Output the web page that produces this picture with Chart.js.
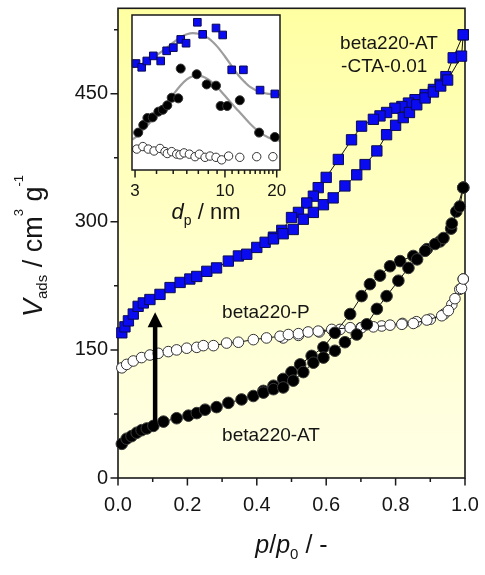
<!DOCTYPE html>
<html><head><meta charset="utf-8">
<script src="https://cdn.jsdelivr.net/npm/chart.js@4.4.1/dist/chart.umd.min.js"></script>
<style>
html,body{margin:0;padding:0;background:#fff;}
#wrap{position:relative;width:485px;height:575px;overflow:hidden;}
#main{position:absolute;left:0;top:0;}
#inset{position:absolute;left:100px;top:0;}
</style></head><body>
<div id="wrap"><canvas id="main" width="485" height="575"></canvas><canvas id="inset" width="200" height="235"></canvas></div>
<script>
const FONT = '"Liberation Sans", Arial, Helvetica, sans-serif';

// ---------- main chart data (p/p0 , V_ads) ----------
const ctaAdsX = [0.011,0.020,0.030,0.044,0.058,0.073,0.092,0.121,0.150,0.179,0.207,0.227,0.256,0.284,0.318,0.347,0.371,0.400,0.424,0.448,0.476,0.505,0.534,0.563,0.592,0.620,0.654,0.688,0.712,0.746,0.774,0.800,0.822,0.840,0.861,0.885,0.909,0.930,0.950,0.990,0.995];
const ctaAdsY = [170,177,184,192,201,205,209,215,223,229,233,236,242,246,254,260,262,270,276,280,286,291,303,311,320,328,342,355,367,383,402,413,422,428,437,445,452,459,466,494,519];
const ctaDesX = [0.995,0.966,0.945,0.928,0.909,0.885,0.856,0.837,0.818,0.798,0.774,0.755,0.736,0.702,0.673,0.635,0.600,0.577,0.563,0.544,0.520,0.500,0.472,0.448];
const ctaDesY = [519,492,470,461,455,449,443,439,435,433,428,424,420,412,396,373,352,340,330,322,311,305,290,282];

const atAdsX = [0.011,0.025,0.039,0.054,0.068,0.083,0.102,0.131,0.169,0.203,0.227,0.251,0.284,0.318,0.356,0.390,0.419,0.448,0.476,0.505,0.534,0.563,0.592,0.625,0.654,0.688,0.717,0.746,0.774,0.808,0.837,0.862,0.885,0.914,0.938,0.962,0.985,0.995];
const atAdsY = [40,46,49,53,56,58,61,66,70,73,76,80,83,88,92,96,100,104,106,114,124,135,141,149,159,168,180,198,213,231,246,256,266,274,281,298,318,340];
const atDesX = [0.995,0.975,0.960,0.928,0.890,0.851,0.813,0.784,0.755,0.726,0.702,0.669,0.625,0.592,0.558,0.525,0.500,0.476,0.448,0.419];
const atDesY = [340,312,292,277,268,260,254,248,237,227,213,192,170,153,143,133,124,116,108,102];

const pAdsX = [0.011,0.025,0.044,0.068,0.092,0.116,0.145,0.169,0.198,0.227,0.246,0.275,0.313,0.347,0.390,0.428,0.467,0.491,0.520,0.548,0.577,0.616,0.669,0.702,0.736,0.784,0.818,0.851,0.890,0.933,0.952,0.971,0.990,0.995];
const pAdsY = [129,133,137,141,144,146,148,150,152,153,155,155,158,159,162,164,166,168,169,171,172,174,176,176,177,179,180,181,185,190,196,210,222,233];
const pDesX = [0.995,0.985,0.962,0.940,0.900,0.860,0.820,0.760,0.700,0.640,0.580,0.520,0.476];
const pDesY = [233,221,203,192,186,183,181,178,176,174,171,167,164];

// ticks
const xTickValues = [0,0.1,0.2,0.3,0.4,0.5,0.6,0.7,0.8,0.9,1.0];
const xTickLabels = ['0.0','','0.2','','0.4','','0.6','','0.8','','1.0'];
const yTickValues = [0,75,150,225,300,375,450,525];
const yTickLabels = ['0','','150','','300','','450',''];

// arrow (p/p0, from V, to V)
const arrowX = 0.107, arrowFrom = 62, arrowTo = 194;

// series labels
const seriesLabels = [
  {text:'beta220-AT', x:0.300, y:49},
  {text:'beta220-P', x:0.300, y:194},
  {text:'beta220-AT', x:0.640, y:509},
  {text:'-CTA-0.01', x:0.643, y:482}
];

// ---------- inset data (d_p / nm , arbitrary) ----------
const insBlueX = [3.04,3.28,3.51,3.83,4.23,4.58,5.01,5.53,5.94,6.91,7.42,8.87,9.70,10.95,12.8,16.0,19.5];
const insBlueY = [2.47,2.41,2.51,2.59,2.51,2.67,2.72,2.85,2.79,3.12,2.93,3.03,2.92,2.37,2.37,2.05,1.99];
const insBlackX = [3.13,3.35,3.54,3.80,4.10,4.35,4.62,4.90,5.35,5.53,6.85,7.83,8.87,9.44,10.3,12.2,15.8,19.5];
const insBlackY = [1.38,1.50,1.61,1.62,1.71,1.74,1.81,1.93,1.92,2.39,2.30,2.14,2.12,1.80,1.80,1.89,1.38,1.31];
const insOpenX = [3.07,3.33,3.58,3.87,4.19,4.48,4.62,4.90,5.24,5.48,5.78,6.21,6.70,7.10,7.66,8.19,8.87,9.57,10.5,12.2,15.3,19.0];
const insOpenY = [1.12,1.16,1.12,1.09,1.13,1.08,1.05,1.08,1.04,1.03,1.06,1.04,1.00,1.04,0.99,1.01,0.99,0.95,1.01,0.99,1.00,1.00];
const fitBlueX = [2.9,3.0,3.5,4.0,4.5,5.0,5.5,6.0,6.5,7.0,8.0,9.0,10,11,12,13,14,16,18,20,20.9];
const fitBlueY = [2.41,2.42,2.50,2.60,2.70,2.80,2.88,2.93,2.95,2.94,2.87,2.74,2.58,2.42,2.28,2.18,2.10,2.02,1.99,1.98,1.98];
const fitBlackX = [2.9,3.0,3.5,4.0,4.5,5.0,5.5,6.0,6.5,7.0,8.0,9.0,10,11,12,14,16,18,20,20.9];
const fitBlackY = [1.27,1.30,1.48,1.65,1.82,1.98,2.12,2.22,2.27,2.28,2.22,2.10,1.96,1.83,1.72,1.52,1.38,1.30,1.26,1.25];
const insTickValues = [3,4,5,6,7,8,9,10,11,12,13,14,15,16,17,18,19,20];
const insTickLabels = ['3','','','','','','','10','','','','','','','','','','20'];

function pts(xs, ys){ return xs.map((x,i)=>({x:x, y:ys[i]})); }

function drawRich(ctx, segs, x, y, align){
  let total = 0;
  segs.forEach(s=>{ ctx.font = (s.italic?'italic ':'') + s.size + 'px ' + FONT; s.w = ctx.measureText(s.t).width; total += s.w; });
  let cx = align==='center' ? x - total/2 : x;
  ctx.textBaseline = 'alphabetic'; ctx.textAlign = 'left';
  segs.forEach(s=>{ ctx.font = (s.italic?'italic ':'') + s.size + 'px ' + FONT; ctx.fillText(s.t, cx, y + (s.dy||0)); cx += s.w; });
}

const BLUE = '#0b0bf2', BLUE_EDGE = '#0a0a55', DARK = '#111111';

const mainPlugin = {
  id:'mainDeco',
  beforeDraw(chart){
    const {ctx, chartArea:a} = chart;
    ctx.save();
    const g = ctx.createLinearGradient(0, a.top, 0, a.bottom);
    g.addColorStop(0, '#ffffa2');
    g.addColorStop(0.5, '#ffffca');
    g.addColorStop(1, '#ffffe6');
    ctx.fillStyle = g;
    ctx.fillRect(a.left, a.top, a.right-a.left, a.bottom-a.top);
    ctx.restore();
  },
  beforeDatasetsDraw(chart){
    const {ctx, chartArea:a, scales:{x,y}} = chart;
    ctx.save();
    ctx.strokeStyle = '#1a1a1a'; ctx.lineWidth = 1.6;
    ctx.strokeRect(a.left, a.top, a.right-a.left, a.bottom-a.top);
    ctx.lineWidth = 1.5;
    ctx.beginPath();
    xTickValues.forEach((v,i)=>{ const px = x.getPixelForValue(v); const len = xTickLabels[i] ? 7.5 : 4; ctx.moveTo(px, a.bottom); ctx.lineTo(px, a.bottom+len); });
    yTickValues.forEach((v,i)=>{ const py = y.getPixelForValue(v); const len = yTickLabels[i] ? 7.5 : 4; ctx.moveTo(a.left, py); ctx.lineTo(a.left-len, py); });
    ctx.stroke();
    ctx.restore();
  },
  afterDatasetsDraw(chart){
    const {ctx, scales:{x,y}} = chart;
    ctx.save();
    const ax = x.getPixelForValue(arrowX), y0 = y.getPixelForValue(arrowFrom), y1 = y.getPixelForValue(arrowTo);
    const headL = 15, headW = 15, shaftW = 4.5;
    ctx.fillStyle = '#000';
    ctx.fillRect(ax - shaftW/2, y1 + headL - 1, shaftW, y0 - (y1 + headL - 1));
    ctx.beginPath(); ctx.moveTo(ax, y1); ctx.lineTo(ax + headW/2, y1 + headL); ctx.lineTo(ax - headW/2, y1 + headL); ctx.closePath(); ctx.fill();
    ctx.fillStyle = '#151515'; ctx.font = '19px ' + FONT; ctx.textBaseline = 'middle'; ctx.textAlign = 'left';
    seriesLabels.forEach(l=>{ ctx.fillText(l.text, x.getPixelForValue(l.x), y.getPixelForValue(l.y)); });
    ctx.restore();
  },
  afterDraw(chart){
    const {ctx, chartArea:a} = chart;
    ctx.save();
    ctx.fillStyle = '#151515';
    drawRich(ctx, [
      {t:'p', size:25, italic:true}, {t:'/', size:25}, {t:'p', size:25, italic:true},
      {t:'0', size:15, dy:6}, {t:' / -', size:25}
    ], (a.left+a.right)/2, 553, 'center');
    ctx.translate(42, 246); ctx.rotate(-Math.PI/2);
    drawRich(ctx, [
      {t:'V', size:27, italic:true}, {t:'ads', size:15, dy:5}, {t:' / cm', size:27},
      {t:'3', size:13, dy:-19}, {t:' g', size:27}, {t:'-1', size:13, dy:-19}
    ], 0, 0, 'center');
    ctx.restore();
  }
};

new Chart(document.getElementById('main'), {
  type:'scatter',
  data:{datasets:[
    {data:pts(ctaAdsX,ctaAdsY), showLine:true, borderColor:DARK, borderWidth:1, pointStyle:'rect', pointRadius:7.3, pointBackgroundColor:BLUE, pointBorderColor:BLUE_EDGE, pointBorderWidth:1, clip:false},
    {data:pts(ctaDesX,ctaDesY), showLine:true, borderColor:DARK, borderWidth:1, pointStyle:'rect', pointRadius:7.3, pointBackgroundColor:BLUE, pointBorderColor:BLUE_EDGE, pointBorderWidth:1, clip:false},
    {data:pts(atAdsX,atAdsY), showLine:true, borderColor:DARK, borderWidth:1, pointStyle:'circle', pointRadius:5.8, pointBackgroundColor:'#000', pointBorderColor:'#3a3a3a', pointBorderWidth:1, clip:false},
    {data:pts(atDesX,atDesY), showLine:true, borderColor:DARK, borderWidth:1, pointStyle:'circle', pointRadius:5.8, pointBackgroundColor:'#000', pointBorderColor:'#3a3a3a', pointBorderWidth:1, clip:false},
    {data:pts(pAdsX,pAdsY), showLine:true, borderColor:DARK, borderWidth:1, pointStyle:'circle', pointRadius:5.3, pointBackgroundColor:'#ffffff', pointBorderColor:'#333', pointBorderWidth:1, clip:false},
    {data:pts(pDesX,pDesY), showLine:true, borderColor:DARK, borderWidth:1, pointStyle:'circle', pointRadius:5.3, pointBackgroundColor:'#ffffff', pointBorderColor:'#333', pointBorderWidth:1, clip:false}
  ]},
  options:{
    responsive:false, animation:false, devicePixelRatio:1,
    layout:{padding:{top:6, right:20, left:0, bottom:0}},
    plugins:{legend:{display:false}, tooltip:{enabled:false}},
    elements:{line:{tension:0}},
    scales:{
      x:{type:'linear', min:0, max:1,
         afterFit(s){ s.height = 97; s.paddingLeft = 0; s.paddingRight = 0; },
         afterBuildTicks(s){ s.ticks = xTickValues.map(v=>({value:v})); },
         grid:{display:false, drawTicks:false}, border:{display:false},
         ticks:{autoSkip:false, maxRotation:0, padding:15, color:'#151515', font:{family:FONT, size:20},
                callback:(v,i)=>xTickLabels[i]}},
      y:{type:'linear', min:0, max:550,
         afterFit(s){ s.width = 118; s.paddingTop = 0; s.paddingBottom = 0; },
         afterBuildTicks(s){ s.ticks = yTickValues.map(v=>({value:v})); },
         grid:{display:false, drawTicks:false}, border:{display:false},
         ticks:{autoSkip:false, padding:10, color:'#151515', font:{family:FONT, size:20},
                callback:(v,i)=>yTickLabels[i]}}
    }
  },
  plugins:[mainPlugin]
});

// ---------- inset ----------
const insetPlugin = {
  id:'insetDeco',
  beforeDraw(chart){
    const {ctx, chartArea:a} = chart;
    ctx.save(); ctx.fillStyle = '#ffffff';
    ctx.fillRect(a.left, a.top, a.right-a.left, a.bottom-a.top);
    ctx.restore();
  },
  afterDraw(chart){
    const {ctx, chartArea:a, scales:{x}} = chart;
    ctx.save();
    ctx.strokeStyle = '#1a1a1a'; ctx.lineWidth = 1.5;
    ctx.strokeRect(a.left, a.top, a.right-a.left, a.bottom-a.top);
    ctx.beginPath();
    insTickValues.forEach((v,i)=>{ const px = x.getPixelForValue(v); const len = insTickLabels[i] ? 7.5 : 4; ctx.moveTo(px, a.bottom); ctx.lineTo(px, a.bottom+len); });
    ctx.stroke();
    ctx.fillStyle = '#151515';
    drawRich(ctx, [
      {t:'d', size:22, italic:true}, {t:'p', size:14, dy:6}, {t:' / nm', size:22}
    ], 106, 219, 'center');
    ctx.restore();
  }
};

new Chart(document.getElementById('inset'), {
  type:'scatter',
  data:{datasets:[
    {data:pts(insBlueX,insBlueY), pointStyle:'rect', pointRadius:5.4, pointBackgroundColor:BLUE, pointBorderColor:BLUE_EDGE, pointBorderWidth:1, clip:false, order:1},
    {data:pts(insBlackX,insBlackY), pointStyle:'circle', pointRadius:4.5, pointBackgroundColor:'#000', pointBorderColor:'#333', pointBorderWidth:1, clip:false, order:1},
    {data:pts(insOpenX,insOpenY), pointStyle:'circle', pointRadius:4.2, pointBackgroundColor:'#fff', pointBorderColor:'#333', pointBorderWidth:1, clip:false, order:1},
    {data:pts(fitBlueX,fitBlueY), showLine:true, borderColor:'#9d9d9d', borderWidth:2.2, pointRadius:0, tension:0.4, cubicInterpolationMode:'monotone', order:2},
    {data:pts(fitBlackX,fitBlackY), showLine:true, borderColor:'#9d9d9d', borderWidth:2.2, pointRadius:0, tension:0.4, cubicInterpolationMode:'monotone', order:2}
  ]},
  options:{
    responsive:false, animation:false, devicePixelRatio:1,
    layout:{padding:{top:15, right:20, left:32, bottom:0}},
    plugins:{legend:{display:false}, tooltip:{enabled:false}},
    scales:{
      x:{type:'logarithmic', min:2.88, max:20.9,
         afterFit(s){ s.height = 65; s.paddingLeft = 0; s.paddingRight = 0; },
         afterBuildTicks(s){ s.ticks = insTickValues.map(v=>({value:v})); },
         grid:{display:false, drawTicks:false}, border:{display:false},
         ticks:{autoSkip:false, maxRotation:0, padding:11, color:'#151515', font:{family:FONT, size:17},
                callback:(v,i)=>insTickLabels[i]}},
      y:{type:'linear', display:false, min:0.79, max:3.235}
    }
  },
  plugins:[insetPlugin]
});
</script>
</body></html>
